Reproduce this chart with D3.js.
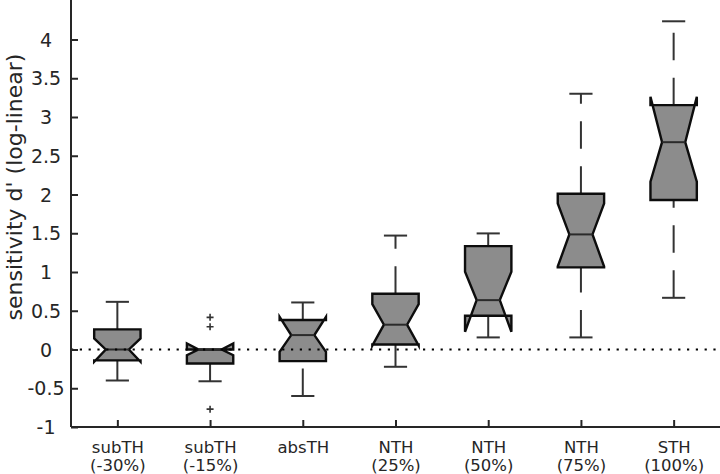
<!DOCTYPE html>
<html>
<head>
<meta charset="utf-8">
<script src="https://cdn.jsdelivr.net/npm/d3@7"></script>
<style>
  html, body { margin: 0; padding: 0; background: #fff; }
  svg { display: block; }
  text { font-family: "DejaVu Sans", Verdana, sans-serif; fill: #262626; }
</style>
</head>
<body>
<svg id="chart" width="720" height="474"></svg>
<script>
// ---- data ----
const labelLine1 = ["subTH", "subTH", "absTH", "NTH", "NTH", "NTH", "STH"];
const labelLine2 = ["(-30%)", "(-15%)", "", "(25%)", "(50%)", "(75%)", "(100%)"];
const whiskerLow  = [-0.40, -0.41, -0.60, -0.223, 0.156, 0.156, 0.667];
const q1          = [-0.14, -0.18, -0.15, 0.065, 0.435, 1.06, 1.93];
const median      = [0.0, 0.0, 0.186, 0.32, 0.637, 1.485, 2.675];
const q3          = [0.26, 0.0, 0.38, 0.72, 1.334, 2.01, 3.153];
const whiskerHigh = [0.615, 0.0, 0.607, 1.47, 1.498, 3.30, 4.235];
const notchLow    = [-0.158, -0.073, -0.03, 0.05, 0.229, 1.07, 2.165];
const notchHigh   = [0.143, 0.079, 0.42, 0.585, 1.003, 1.885, 3.26];
const outliers    = [[], [0.415, 0.293, -0.77], [], [], [], [], []];
const yTicks      = [-1, -0.5, 0, 0.5, 1, 1.5, 2, 2.5, 3, 3.5, 4];
const yLabel      = "sensitivity d' (log-linear)";

(function () {
const svg = d3.select("#chart");
const mLeft = 71, mRight = 720, mBottom = 427, mTop = 0.75;

const idx = d3.range(labelLine1.length);
const x = d3.scalePoint().domain(idx).range([mLeft, mRight]).padding(0.5);
const y = d3.scaleLinear().domain([-1, 4.5]).range([mBottom, mTop]);
const hw = x.step() * 0.25;

const boxes = idx.map(i => ({
  i, lo: whiskerLow[i], q1: q1[i], med: median[i], q3: q3[i], hi: whiskerHigh[i],
  nlo: notchLow[i], nhi: notchHigh[i], out: outliers[i]
}));

const g = svg.append("g");
// whiskers (dashed, drawn from lower point to upper point)
boxes.forEach(b => {
  const cx = x(b.i);
  if (b.q1 > b.lo) {
    g.append("line").attr("x1", cx).attr("x2", cx).attr("y1", y(b.lo)).attr("y2", y(b.q1))
      .attr("stroke", "#333").attr("stroke-width", 2).attr("stroke-dasharray", "27.5,17.5");
  }
  if (b.hi > b.q3) {
    g.append("line").attr("x1", cx).attr("x2", cx).attr("y1", y(b.q3)).attr("y2", y(b.hi))
      .attr("stroke", "#333").attr("stroke-width", 2).attr("stroke-dasharray", "27.5,17.5");
  }
  const caps = [b.lo];
  if (b.hi > b.q3) caps.push(b.hi);
  caps.forEach(v => {
    g.append("line").attr("x1", cx - hw / 2).attr("x2", cx + hw / 2)
      .attr("y1", y(v)).attr("y2", y(v))
      .attr("stroke", "#333").attr("stroke-width", 2);
  });
});

// notched boxes
boxes.forEach(b => {
  const cx = x(b.i);
  const pts = [
    [cx - hw, y(b.q1)], [cx - hw, y(b.nlo)], [cx - hw / 2, y(b.med)], [cx - hw, y(b.nhi)],
    [cx - hw, y(b.q3)], [cx + hw, y(b.q3)], [cx + hw, y(b.nhi)], [cx + hw / 2, y(b.med)],
    [cx + hw, y(b.nlo)], [cx + hw, y(b.q1)]
  ];
  g.append("path").attr("d", "M" + pts.map(p => p.join(",")).join("L") + "Z")
    .attr("fill", "#8c8c8c").attr("stroke", "#0d0d0d").attr("stroke-width", 2.4)
    .attr("stroke-linejoin", "miter");
  g.append("line").attr("x1", cx - hw / 2).attr("x2", cx + hw / 2)
    .attr("y1", y(b.med)).attr("y2", y(b.med))
    .attr("stroke", "#2a2a2a").attr("stroke-width", 2);
  b.out.forEach(v => {
    g.append("path").attr("d", "M-3.5,0H3.5M0,-3.5V3.5")
      .attr("transform", `translate(${cx},${y(v)})`)
      .attr("stroke", "#333").attr("stroke-width", 1.6).attr("fill", "none");
  });
});

// zero reference line (dotted)
svg.append("line").attr("x1", mLeft).attr("x2", mRight).attr("y1", y(0)).attr("y2", y(0))
  .attr("stroke", "#000").attr("stroke-width", 2).attr("stroke-dasharray", "2.2,6.6");

// y axis
const yAxis = svg.append("g").attr("transform", `translate(${mLeft},0)`)
  .call(d3.axisLeft(y).tickValues(yTicks).tickSizeInner(-7).tickSizeOuter(0)
    .tickFormat(d => String(d)));
yAxis.select(".domain").attr("stroke", "#262626").attr("stroke-width", 2)
  .attr("d", `M0,0V${mBottom}`);
yAxis.selectAll(".tick line").attr("stroke", "#262626").attr("stroke-width", 2);
yAxis.selectAll(".tick text").attr("x", -25).attr("dy", "0.35em").attr("text-anchor", "middle")
  .attr("font-size", 19).attr("fill", "#262626").attr("font-family", "DejaVu Sans");

// x axis
const xAxis = svg.append("g").attr("transform", `translate(0,${mBottom})`)
  .call(d3.axisBottom(x).tickSizeInner(-7).tickSizeOuter(0).tickFormat(""));
xAxis.select(".domain").attr("stroke", "#262626").attr("stroke-width", 2)
  .attr("d", `M${mLeft},0H${mRight}`);
xAxis.selectAll(".tick line").attr("stroke", "#262626").attr("stroke-width", 2);
xAxis.selectAll(".tick").each(function(d) {
  const t = d3.select(this);
  t.append("text").attr("y", 25.5).attr("text-anchor", "middle").attr("font-size", 16.5)
    .attr("fill", "#262626").attr("font-family", "DejaVu Sans").text(labelLine1[d]);
  t.append("text").attr("y", 43.5).attr("text-anchor", "middle").attr("font-size", 16.5)
    .attr("fill", "#262626").attr("font-family", "DejaVu Sans").text(labelLine2[d]);
});

// y label
svg.append("text").attr("transform", "translate(22,187) rotate(-90)")
  .attr("text-anchor", "middle").attr("font-size", 22).text(yLabel);
})();
</script>
</body>
</html>
